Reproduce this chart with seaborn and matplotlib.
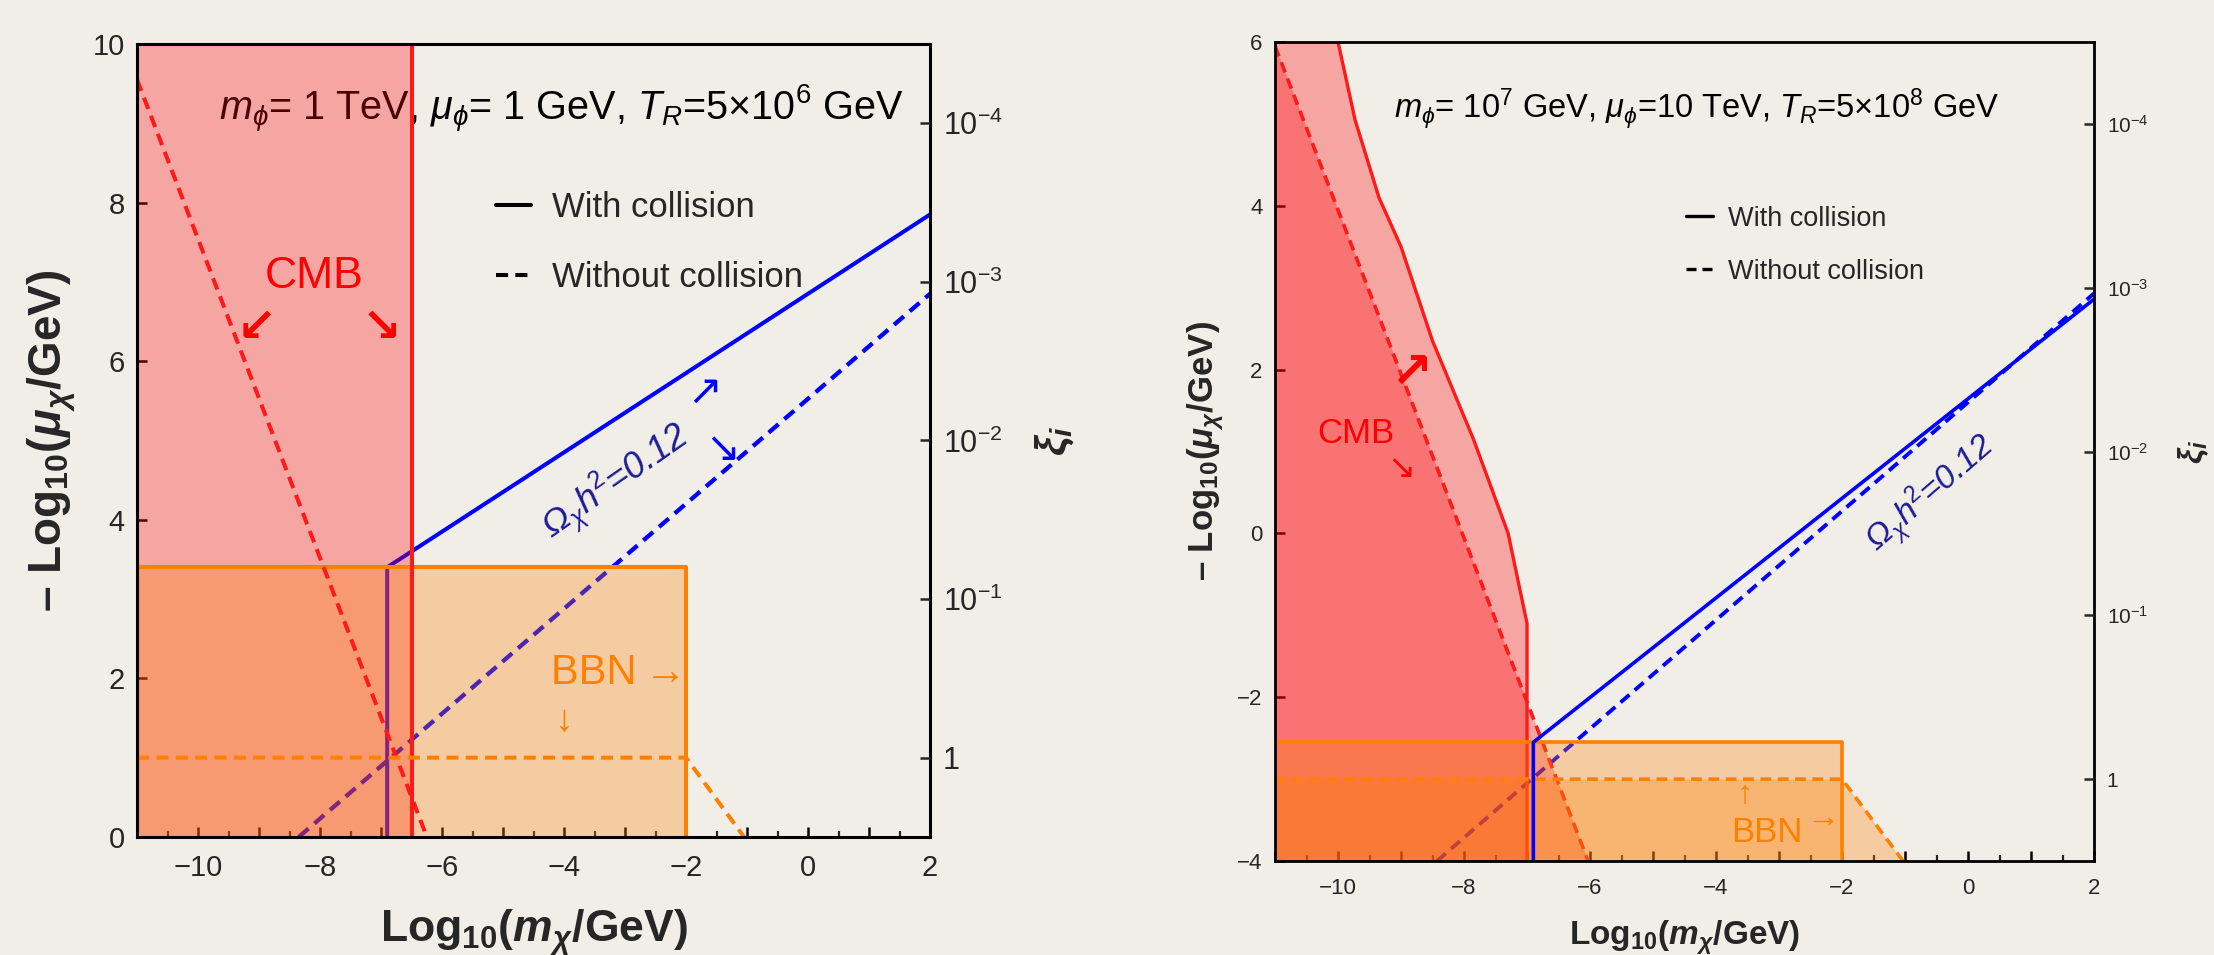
import numpy as np
import pandas as pd
import matplotlib
matplotlib.use("Agg")
import matplotlib.pyplot as plt
import seaborn as sns
from matplotlib.ticker import FixedLocator, NullLocator, MultipleLocator
from matplotlib.lines import Line2D

# ---------------- data: left panel (m_phi = 1 TeV) ----------------
L_xlim = [-11, 2]
L_ylim = [0, 10]
L_cmb_with_x = -6.5                 # CMB bound, with collision
L_bbn_with_xmax = -2.0              # BBN bound, with collision
L_bbn_with_top = 3.4
L_omega_solid_x = [-6.9, -6.9, 2.0]
L_omega_solid_y = [0.0, 3.4, 7.85]
L_omega_dash_x = [-8.35, 2.0]
L_omega_dash_y = [0.0, 6.85]
L_cmb_dash_x = [-11.0, -6.25]
L_cmb_dash_y = [9.55, 0.0]
L_bbn_dash_x = [-11.0, -2.0, -1.05]
L_bbn_dash_y = [1.0, 1.0, 0.0]

# ---------------- data: right panel (m_phi = 1e7 GeV) ----------------
R_xlim = [-11, 2]
R_ylim = [-4, 6]
R_cmb_curve_x = [-11.0, -10.0, -9.73, -9.35, -9.0, -8.5, -7.85, -7.3, -7.0, -7.0]
R_cmb_curve_y = [6.0, 6.0, 5.05, 4.1, 3.5, 2.35, 1.15, 0.0, -1.1, -4.0]
R_cmb_dash_x = [-11.0, -6.03]
R_cmb_dash_y = [5.95, -4.0]
R_bbn_with_xmax = -2.0
R_bbn_with_top = -2.55
R_bbn_dash_x = [-11.0, -2.0, -1.03]
R_bbn_dash_y = [-3.0, -3.0, -4.0]
R_omega_solid_x = [-6.9, -6.9, 2.0]
R_omega_solid_y = [-4.0, -2.55, 2.86]
R_omega_dash_x = [-8.43, 2.0]
R_omega_dash_y = [-4.0, 2.93]

xi_ticks = [1e-4, 1e-3, 1e-2, 1e-1, 1.0]
xi_labels = [r"$10^{-4}$", r"$10^{-3}$", r"$10^{-2}$", r"$10^{-1}$", "1"]
x_ticks = [-10, -8, -6, -4, -2, 0, 2]

BG = "#f1eee8"
RED = "#ff1a1a"
ORANGE = "#ff8000"
BLUE = "#0000ff"
NAVY = "#1c1c96"

sns.set_theme(style="ticks")
plt.rcParams["font.family"] = ["Liberation Sans", "DejaVu Sans"]
plt.rcParams["mathtext.fontset"] = "custom"
plt.rcParams["mathtext.rm"] = "Liberation Sans"
plt.rcParams["mathtext.it"] = "Liberation Sans:italic"
plt.rcParams["mathtext.bf"] = "Liberation Sans:bold"
plt.rcParams["mathtext.bfit"] = "Liberation Sans:bold:italic"
plt.rcParams["mathtext.fallback"] = "stixsans"
plt.rcParams["axes.unicode_minus"] = True

fig = plt.figure(figsize=(22.14, 9.55), dpi=100, facecolor=BG)
ax1 = fig.add_axes([0.0619, 0.1236, 0.3582, 0.8304])
ax2 = fig.add_axes([0.5759, 0.0984, 0.3699, 0.8576])


def line(ax, x, y, color, lw, ls="-", z=3):
    df = pd.DataFrame({"x": x, "y": y})
    sns.lineplot(data=df, x="x", y="y", ax=ax, color=color, lw=lw,
                 linestyle=ls, sort=False, estimator=None, zorder=z,
                 legend=False)


def style_axes(ax, xlim, ylim, tick_fs, spine_lw, xlab_fs, ylab_fs, xlab_pad, ylab_pad):
    ax.set_facecolor(BG)
    ax.set_xlim(xlim)
    ax.set_ylim(ylim)
    ax.xaxis.set_minor_locator(MultipleLocator(0.5))
    ax.set_xticks(np.arange(xlim[0], xlim[1] + 1, 1))
    ax.set_xticklabels([str(int(v)).replace("-", "\u2212") if v in x_ticks else ""
                        for v in np.arange(xlim[0], xlim[1] + 1, 1)])
    ax.yaxis.set_major_locator(MultipleLocator(2))
    ax.yaxis.set_minor_locator(NullLocator())
    ax.tick_params(axis="both", which="major", direction="in", length=7,
                   width=1.8, labelsize=tick_fs, color="black", pad=9,
                   top=False, right=False)
    ax.tick_params(axis="x", which="minor", direction="in", length=4.5,
                   width=1.6, top=False)
    ax.tick_params(axis="x", which="major", pad=12)
    for s in ax.spines.values():
        s.set_linewidth(spine_lw)
        s.set_color("black")
        s.set_zorder(10)
    ax.set_xlabel(r"Log$_{\mathbf{10}}$($\mathbfit{m_\chi}$/GeV)",
                  fontsize=xlab_fs, fontweight="bold", labelpad=xlab_pad)
    ax.set_ylabel("\u2013 Log$_{\\mathbf{10}}$($\\mathbfit{\\mu_\\chi}$/GeV)",
                  fontsize=ylab_fs, fontweight="bold", labelpad=ylab_pad)


def twin_xi(ax, tick_fs, lab_fs, pad):
    tw = ax.twinx()
    tw.set_yscale("log")
    tw.set_ylim(10 ** 0.5, 10 ** -4.5)
    tw.yaxis.set_major_locator(FixedLocator(xi_ticks))
    tw.yaxis.set_minor_locator(NullLocator())
    tw.set_yticklabels(xi_labels)
    tw.tick_params(axis="y", which="major", direction="in", length=7,
                   width=1.8, labelsize=tick_fs, pad=9)
    for s in tw.spines.values():
        s.set_visible(False)
    tw.set_ylabel(r"$\mathbfit{\xi_i}$", fontsize=lab_fs, labelpad=pad)
    tw.grid(False)
    return tw


# ======================= LEFT PANEL =======================
style_axes(ax1, L_xlim, L_ylim, 21, 2.2, 32, 33, 18, 10)
# blue relic lines (under the shaded regions)
line(ax1, L_omega_solid_x, L_omega_solid_y, BLUE, 2.9, "-", 1)
line(ax1, L_omega_dash_x, L_omega_dash_y, BLUE, 3.1, (0, (3, 1.8)), 1)
# CMB region
ax1.fill_betweenx(L_ylim, L_xlim[0], L_cmb_with_x, color="red", alpha=0.3,
                  lw=0, zorder=2)
# BBN region
ax1.fill_between([L_xlim[0], L_bbn_with_xmax], L_ylim[0], L_bbn_with_top,
                 color=ORANGE, alpha=0.3, lw=0, zorder=2.5)
line(ax1, [L_xlim[0], L_bbn_with_xmax, L_bbn_with_xmax],
     [L_bbn_with_top, L_bbn_with_top, L_ylim[0]], ORANGE, 2.9, "-", 3)
line(ax1, [L_cmb_with_x, L_cmb_with_x], L_ylim, RED, 2.9, "-", 4)
line(ax1, L_cmb_dash_x, L_cmb_dash_y, RED, 2.9, (0, (3, 1.8)), 4)
line(ax1, L_bbn_dash_x, L_bbn_dash_y, ORANGE, 2.9, (0, (3, 1.8)), 4)

ax1.text(-4.05, 9.18, r"$m_\phi$= 1 TeV, $\mu_\phi$= 1 GeV, $T_R$=5×10$^6$ GeV",
         fontsize=28.5, ha="center", va="center", color="black", zorder=1.5)
ax1.text(-8.1, 7.07, "CMB", fontsize=32, color="red", ha="center", va="center")
ax1.text(-9.05, 6.4, "\u2199", fontsize=34, color="red", ha="center",
         va="center", fontweight="bold")
ax1.text(-7.0, 6.4, "\u2198", fontsize=34, color="red", ha="center",
         va="center", fontweight="bold")
ax1.text(-3.16, 4.48, "Ω$_{\\chi}$h$^{2}$=0.12", fontsize=26, color=NAVY,
         rotation=35, ha="center", va="center", fontstyle="italic")
ax1.text(-1.69, 5.6, "\u2197", fontsize=30, color=BLUE, ha="center", va="center")
ax1.text(-1.4, 4.88, "\u2198", fontsize=30, color=BLUE, ha="center", va="center")
ax1.text(-3.1, 2.07, "BBN\u2009\u2192", fontsize=30, color=ORANGE, ha="center", va="center")
ax1.text(-4.0, 1.46, "\u2193", fontsize=27, color=ORANGE, ha="center", va="center")

handles = [Line2D([], [], color="black", lw=2.9, ls="-"),
           Line2D([], [], color="black", lw=2.9, ls=(0, (3, 1.8)))]
ax1.legend(handles, ["With collision", "Without collision"],
           loc="upper left", bbox_to_anchor=(0.453, 0.814), frameon=False,
           fontsize=25, handlelength=1.0, handletextpad=0.6,
           labelspacing=1.05, borderpad=0, borderaxespad=0)

twin_xi(ax1, 22, 31, 22)

# ======================= RIGHT PANEL =======================
style_axes(ax2, R_xlim, R_ylim, 16, 2.0, 24, 25, 14, 8)
line(ax2, R_omega_dash_x, R_omega_dash_y, BLUE, 2.8, (0, (3, 1.8)), 1)
ax2.fill_betweenx(R_cmb_curve_y, R_xlim[0], R_cmb_curve_x, color="red",
                  alpha=0.3, lw=0, zorder=2)
ax2.fill_betweenx(R_cmb_dash_y, R_xlim[0], R_cmb_dash_x, color="red",
                  alpha=0.3, lw=0, zorder=2)
line(ax2, R_cmb_curve_x[1:], R_cmb_curve_y[1:], RED, 2.4, "-", 2.2)
line(ax2, R_cmb_dash_x, R_cmb_dash_y, RED, 2.6, (0, (3, 1.8)), 2.2)
ax2.fill_between([R_xlim[0], R_bbn_with_xmax], R_ylim[0], R_bbn_with_top,
                 color=ORANGE, alpha=0.3, lw=0, zorder=3)
ax2.fill_between(R_bbn_dash_x, R_ylim[0], R_bbn_dash_y,
                 color=ORANGE, alpha=0.3, lw=0, zorder=3)
line(ax2, [R_xlim[0], R_bbn_with_xmax, R_bbn_with_xmax],
     [R_bbn_with_top, R_bbn_with_top, R_ylim[0]], ORANGE, 2.6, "-", 4)
line(ax2, R_bbn_dash_x, R_bbn_dash_y, ORANGE, 2.6, (0, (3, 1.8)), 4)
line(ax2, R_omega_solid_x, R_omega_solid_y, BLUE, 2.6, "-", 5)

ax2.text(-4.3, 5.18, r"$m_\phi$= 10$^7$ GeV, $\mu_\phi$=10 TeV, $T_R$=5×10$^8$ GeV",
         fontsize=23.5, ha="center", va="center", color="black")
ax2.text(-9.71, 1.22, "CMB", fontsize=25, color="red", ha="center", va="center")
ax2.text(-8.84, 1.95, "\u2197", fontsize=36, color="red", ha="center",
         va="center", fontweight="bold")
ax2.text(-9.0, 0.78, "\u2198", fontsize=24, color="red", ha="center", va="center")
ax2.text(-0.59, 0.48, "Ω$_{\\chi}$h$^{2}$=0.12", fontsize=24, color=NAVY,
         rotation=41, ha="center", va="center", fontstyle="italic")
ax2.text(-3.54, -3.18, "\u2191", fontsize=23, color=ORANGE, ha="center", va="center")
ax2.text(-3.19, -3.65, "BBN", fontsize=25, color=ORANGE, ha="center", va="center")
ax2.text(-2.3, -3.47, "\u2192", fontsize=24, color=ORANGE, ha="center", va="center")

handles2 = [Line2D([], [], color="black", lw=2.4, ls="-"),
            Line2D([], [], color="black", lw=2.4, ls=(0, (3, 1.8)))]
ax2.legend(handles2, ["With collision", "Without collision"],
           loc="upper left", bbox_to_anchor=(0.502, 0.80), frameon=False,
           fontsize=19.5, handlelength=1.0, handletextpad=0.55,
           labelspacing=1.0, borderpad=0, borderaxespad=0)

twin_xi(ax2, 15, 24, 20)

fig.savefig("out.png", dpi=100, facecolor=BG)
